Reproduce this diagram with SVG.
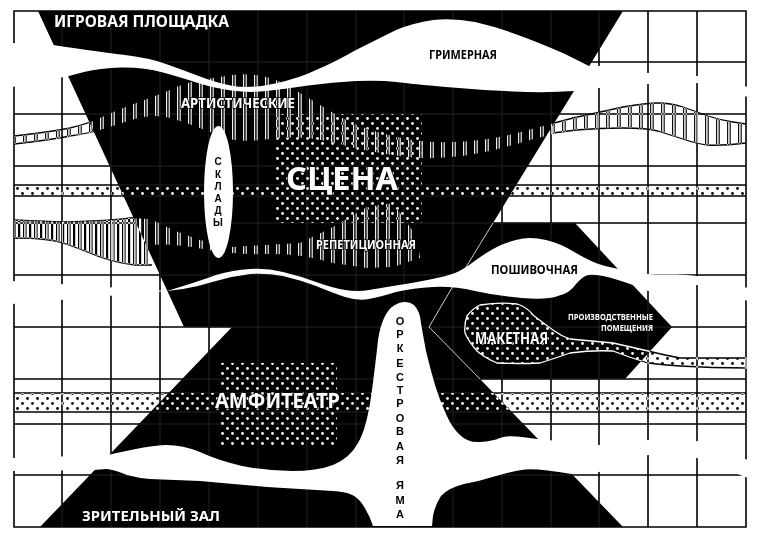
<svg xmlns="http://www.w3.org/2000/svg" width="760" height="538" viewBox="0 0 760 538">
<style>
.g{fill:none;stroke:#000;stroke-width:1.6}
.f{fill:none;stroke:#222;stroke-width:1}
.w{fill:#fff}
.o{fill:none;stroke:#000;stroke-width:1.3}
.d{fill:url(#dots);mix-blend-mode:difference}
.s{fill:url(#stripes);mix-blend-mode:difference}
.s2{fill:url(#stripes2);mix-blend-mode:difference}
.t{font-family:"Noto Sans","Liberation Sans",sans-serif;font-weight:700;text-anchor:start}
.l{font-family:"Liberation Sans",Arial,sans-serif;font-weight:700;text-anchor:middle}
.tw{fill:#fff}
.tb{fill:#000}
.h{stroke:#000;stroke-width:1.6;paint-order:stroke}
</style>
<defs>
<pattern id="dots" width="10" height="10" patternUnits="userSpaceOnUse" x="0" y="1">
<circle cx="2.5" cy="2.5" r="1.4" fill="#fff"/><circle cx="7.5" cy="7.5" r="1.4" fill="#fff"/>
</pattern>
<pattern id="stripes" width="11" height="10" patternUnits="userSpaceOnUse">
<rect x="1" width="1.2" height="10" fill="#eee"/><rect x="3.6" width="1.2" height="10" fill="#eee"/>
</pattern>
<pattern id="stripes2" width="11" height="10" patternUnits="userSpaceOnUse">
<rect x="1" width="1.2" height="10" fill="#fff"/><rect x="3.6" width="1" height="10" fill="#fff"/><rect x="7" width="2.2" height="10" fill="#fff"/>
</pattern>
<path id="gridpath" d="M62 11V527M111 11V527M160 11V527M209 11V527M258 11V527M307 11V527M356 11V527M404 11V527M453 11V527M502 11V527M551 11V527M599 11V527M648 11V527M697 11V527M14 62H746M14 114H746M14 166H746M14 223H746M14 275H746M14 327H746M14 379H746M14 424H746M14 475H746M14 185H746M14 196H746M14 393H746M14 412H746"/>
<path id="hourglass" d="M38 11H623L493 223H575L672 327L625 379H480L623 527H40L232 327H184Z"/>
<clipPath id="hg"><use href="#hourglass"/></clipPath>
</defs>
<rect width="760" height="538" class="w"/>
<g id="wave-outlines">
<path class="o" d="M14 136Q50 132 70 128Q90 123 100 118Q110 113 131 105Q153 97 170 90Q187 82 200 80Q213 78 226 76Q240 73 256 75Q273 77 290 87Q307 97 320 105Q333 113 350 122Q367 130 393 136Q420 143 450 142Q480 142 513 134Q547 125 573 118Q600 112 623 107Q647 103 658 103Q670 103 683 107Q697 112 708 116Q720 120 733 122L746 124"/>
<path class="o" d="M746 143Q720 146 708 145Q697 144 683 139Q670 135 658 131Q647 128 623 128Q600 128 576 130L553 133"/>
<path class="o" d="M14 144Q50 140 70 136Q90 133 100 130"/>
<path class="o" d="M14 220Q67 223 92 221Q117 220 130 218L143 217"/>
<path class="o" d="M14 238Q50 238 66 244Q83 250 100 257Q117 263 135 265L152 265"/>
</g>
<path id="grid" class="g" d="M62 11V527M111 11V527M160 11V527M209 11V527M258 11V527M307 11V527M356 11V527M404 11V527M453 11V527M502 11V527M551 11V527M599 11V527M648 11V527M697 11V527M14 62H746M14 114H746M14 166H746M14 223H746M14 275H746M14 327H746M14 379H746M14 424H746M14 475H746M14 185H746M14 196H746M14 393H746M14 412H746M14 11H746V527H14Z"/>
<use id="stage-house" href="#hourglass" fill="#000"/>
<use href="#gridpath" class="f" clip-path="url(#hg)"/>
<g id="textures">
<path class="s" d="M14 136Q50 132 70 128Q90 123 100 118Q110 113 131 105Q153 97 170 90Q187 82 200 80Q213 78 226 76Q240 73 256 75Q273 77 290 87Q307 97 320 105Q333 113 350 122Q367 130 393 136Q420 143 450 142Q480 142 513 134Q547 125 573 118Q600 112 623 107Q647 103 658 103Q670 103 683 107Q697 112 708 116Q720 120 733 122L746 124V143Q720 146 708 145Q697 144 683 139Q670 135 658 131Q647 128 623 128Q600 128 576 130Q553 133 516 144Q480 155 451 157Q423 160 391 155Q360 150 330 142Q300 135 270 139Q240 143 226 138Q213 133 200 128Q187 123 170 118Q153 113 131 120Q110 127 100 130Q93 133 70 137Q50 140 14 144Z"/>
<path class="s2" d="M14 220Q67 223 92 221Q117 220 130 218L150 219V265L135 265Q117 263 100 257Q83 250 66 244Q50 238 14 238Z"/>
<path class="s" d="M150 219Q162 224 173 230Q186 235 200 240Q216 244 233 247Q266 245 300 243Q316 235 333 227Q350 217 367 207Q380 205 393 203Q405 220 417 237L420 258L393 267L367 268L333 263Q300 253 266 254Q233 255 203 249Q173 243 150 245Z"/>
<rect class="d" x="14" y="185" width="260" height="11"/>
<rect class="d" x="422" y="185" width="324" height="11"/>
<rect class="d" x="14" y="393" width="207" height="19"/>
<rect class="d" x="337" y="393" width="409" height="19"/>
<rect class="d" x="274" y="114" width="148" height="109"/>
<rect class="d" x="221" y="363" width="116" height="82"/>
</g>
<g id="white-bands">
<path id="band-top" class="w" d="M12 43L53 45Q100 52 125 55Q150 58 166 64Q183 70 200 76.5Q217 83 233 86Q250 89 275 83.5Q300 78 316 70Q333 63 356 50Q380 38 396 30Q413 23 433 20Q453 18 475 22Q497 27 518 35Q540 43 565 54L589 66L599 66L648 73L697 76L748 87V97L697 83L648 84L599 88L574 91Q547 93 513 91.5Q480 90 446 87Q413 84 396 82Q380 80 356 81Q333 82 308 85.5Q283 89 266 91Q250 93 231 90.5Q213 88 198 83Q183 78 163 72.5Q143 67 121 67.5Q100 68 84 72L69 76L12 87Z"/>
<path id="band-mid" class="w" d="M12 281L167 291Q200 281 216 275Q233 270 250 269Q267 268 283 272Q300 276 316 282Q333 288 345 290Q358 292 369 290Q380 288 396 285.5Q413 283 430 279.5Q447 276 455 273Q463 270 476 260Q490 250 501 245Q513 240 523 238.5Q533 237 546 240Q560 243 576 253Q593 263 605 266Q618 269 633 272Q648 275 672 274.5Q697 274 721 281L748 288V301L697 285L648 291L633 285Q613 278 603 276Q593 274 588 275Q583 276 576 284Q570 293 558 296Q547 300 522 298Q497 296 475 291Q453 286 433 287Q413 288 396 292Q380 297 369 299Q358 301 345 297Q333 293 316 286Q300 280 283 276Q267 273 250 274Q233 276 216 281Q200 286 183 289L167 291L12 304Z"/>
<path id="orchestra" class="w" d="M12 458L108 455Q150 445 166 445Q183 445 200 452Q217 460 242 466Q267 471 292 471Q317 471 333 465Q350 458 358 443Q367 428 372 390Q377 351 378 340Q380 326 385 316Q390 306 399 303Q408 300 414 305Q420 311 421 323Q423 335 426 351Q430 368 435 385Q440 401 446 414Q452 428 460 435Q468 443 480 442Q493 441 500 438Q507 435 522 437L537 439L599 445L648 440L697 441L748 460V478L697 458L648 455L599 472L572 474Q537 468 525 469.5Q513 471 496 476Q480 481 464 484Q448 488 441 496Q435 505 433 516L432 526H373Q370 516 363 505Q358 497 350 494Q345 492 333 491L267 487L200 481L150 479Q138 478 127 475Q115 470 107 469L93 470L12 471Z"/>
<path id="partitions" fill="none" stroke="#fff" stroke-width="0.8" d="M493 223L463 272M453 286L429 327L480 379"/>
</g>
<g id="maketnaya">
<path class="d" style="stroke:#fff;stroke-width:1.3" d="M480 305Q500 302 517 304Q527 307 533 315Q543 323 553 330Q561 336 570 339Q592 341 613 343Q631 347 648 351Q664 355 680 358Q712 358 746 358V368Q712 368 680 366Q664 365 648 363Q631 358 613 351Q592 350 570 353Q556 358 540 363Q518 364 497 363Q485 358 477 351Q469 342 465 333Q464 324 467 316Q472 309 480 305Z"/>
</g>
<g id="sklady">
<ellipse cx="218.5" cy="192" rx="14.5" ry="66" class="w"/>
<text class="l tb" font-size="10"><tspan x="218" y="165">С</tspan><tspan x="218" y="178">К</tspan><tspan x="218" y="190">Л</tspan><tspan x="218" y="202">А</tspan><tspan x="218" y="214">Д</tspan><tspan x="218" y="226">Ы</tspan></text>
</g>
<g id="labels">
<text class="t tw h" x="286" y="190" font-size="33" textLength="112" lengthAdjust="spacingAndGlyphs">СЦЕНА</text>
<text class="t tw h" x="215" y="408" font-size="21" textLength="125" lengthAdjust="spacingAndGlyphs">АМФИТЕАТР</text>
<text class="t tw h" x="475" y="344" font-size="16" textLength="73" lengthAdjust="spacingAndGlyphs">МАКЕТНАЯ</text>
<text class="t tw" x="54" y="27" font-size="16.5" textLength="175" lengthAdjust="spacingAndGlyphs">ИГРОВАЯ ПЛОЩАДКА</text>
<text class="t tb" x="429" y="59" font-size="12" textLength="68" lengthAdjust="spacingAndGlyphs">ГРИМЕРНАЯ</text>
<text class="t tw h" x="181" y="108" font-size="13.5" textLength="114" lengthAdjust="spacingAndGlyphs">АРТИСТИЧЕСКИЕ</text>
<text class="t tw h" x="316" y="249" font-size="12" textLength="100" lengthAdjust="spacingAndGlyphs">РЕПЕТИЦИОННАЯ</text>
<text class="t tb" x="491" y="274" font-size="12.5" textLength="87" lengthAdjust="spacingAndGlyphs">ПОШИВОЧНАЯ</text>
<text class="t tw" x="568" y="320" font-size="8" textLength="85" lengthAdjust="spacingAndGlyphs">ПРОИЗВОДСТВЕННЫЕ</text>
<text class="t tw" x="601" y="331" font-size="8" textLength="52" lengthAdjust="spacingAndGlyphs">ПОМЕЩЕНИЯ</text>
<text class="t tw" x="82" y="521" font-size="15" textLength="138" lengthAdjust="spacingAndGlyphs">ЗРИТЕЛЬНЫЙ ЗАЛ</text>
<text class="l tb" font-size="11"><tspan x="400" y="325">О</tspan><tspan x="400" y="338">Р</tspan><tspan x="400" y="352">К</tspan><tspan x="400" y="367">Е</tspan><tspan x="400" y="381">С</tspan><tspan x="400" y="394">Т</tspan><tspan x="400" y="407">Р</tspan><tspan x="400" y="422">О</tspan><tspan x="400" y="435">В</tspan><tspan x="400" y="450">А</tspan><tspan x="400" y="464">Я</tspan><tspan x="400" y="489">Я</tspan><tspan x="400" y="504">М</tspan><tspan x="400" y="518">А</tspan></text>
</g>
</svg>
